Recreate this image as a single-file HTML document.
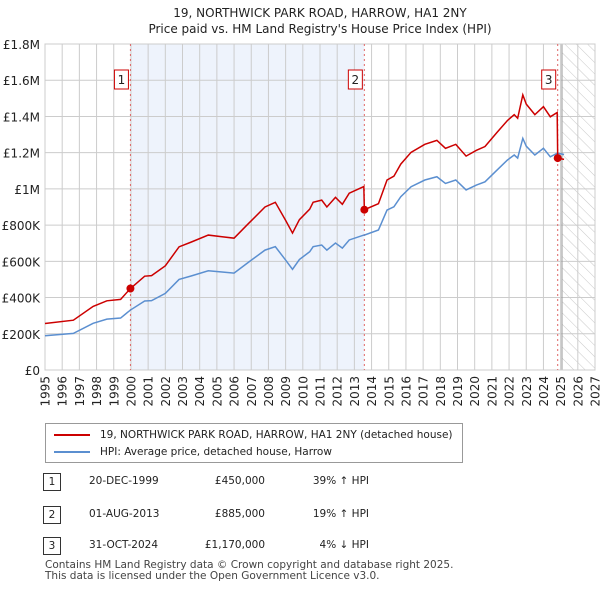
<!DOCTYPE html>
<html><head><meta charset="utf-8"><style>
body{margin:0;background:#fff;font-family:"DejaVu Sans","Liberation Sans",sans-serif;}
#wrap{position:relative;width:600px;height:590px;overflow:hidden}
</style></head><body><div id="wrap">
<svg id="chart" width="600" height="590" style="position:absolute;left:0;top:0;font-family:'DejaVu Sans','Liberation Sans',sans-serif">
<defs><pattern id="hatch" width="8" height="8" patternUnits="userSpaceOnUse" patternTransform="rotate(-45)"><line x1="0" y1="0" x2="0" y2="8" stroke="#c8c8c8" stroke-width="1"/></pattern></defs>
<text x="320" y="17" text-anchor="middle" font-size="12" fill="#222">19, NORTHWICK PARK ROAD, HARROW, HA1 2NY</text>
<text x="320" y="33" text-anchor="middle" font-size="12" fill="#222">Price paid vs. HM Land Registry's House Price Index (HPI)</text>
<g id="plot"></g>
</svg>
<div style="position:absolute;left:45px;top:423px;width:416px;height:38px;border:1px solid #999;font-size:10.5px;color:#222">
 <div style="position:absolute;left:8px;top:5px;white-space:nowrap"><span style="display:inline-block;width:36px;border-top:2px solid #cc0000;vertical-align:middle;margin-right:10px"></span>19, NORTHWICK PARK ROAD, HARROW, HA1 2NY (detached house)</div>
 <div style="position:absolute;left:8px;top:22px;white-space:nowrap"><span style="display:inline-block;width:36px;border-top:2px solid #5b8fd0;vertical-align:middle;margin-right:10px"></span>HPI: Average price, detached house, Harrow</div>
</div>
<div id="tbl" style="font-size:10.5px;color:#222"></div>
<div style="position:absolute;left:45px;top:560px;font-size:10.5px;color:#444;line-height:11px">Contains HM Land Registry data © Crown copyright and database right 2025.<br>This data is licensed under the Open Government Licence v3.0.</div>
</div>
<script>
const dates=[1995.0,1996.65,1997.8,1998.6,1999.4,1999.97,2000.8,2001.2,2002.0,2002.8,2003.5,2004.5,2005.3,2006.0,2006.8,2007.8,2008.4,2009.0,2009.4,2009.8,2010.4,2010.6,2011.1,2011.4,2011.9,2012.3,2012.7,2013.55,2013.58,2014.4,2014.9,2015.3,2015.7,2016.3,2017.1,2017.8,2018.3,2018.9,2019.5,2020.1,2020.6,2021.3,2021.9,2022.3,2022.5,2022.8,2023.0,2023.5,2024.0,2024.4,2024.8,2024.83,2025.2];
const hpiValues=[189,202,258,281,287,331,381,383,423,500,519,548,541,535,592,662,681,607,556,610,653,681,690,662,701,673,718,745,745,773,883,901,957,1012,1049,1067,1030,1049,994,1021,1039,1104,1159,1187,1170,1279,1236,1187,1224,1177,1197,1197,1190];
const propValues=[257,275,351,382,390,450,518,521,575,680,706,745,736,728,805,900,926,826,756,830,888,926,938,900,953,915,976,1013,885,918,1049,1070,1137,1202,1246,1268,1224,1246,1181,1213,1234,1312,1377,1410,1390,1519,1468,1410,1454,1398,1422,1170,1163];
const saleDates=[1999.97,2013.58,2024.83];
const saleValues=[450,885,1170];
const saleLabels=["1","2","3"];
const saleDateText=["20-DEC-1999","01-AUG-2013","31-OCT-2024"];
const salePriceText=["£450,000","£885,000","£1,170,000"];
const saleHpiText=["39% ↑ HPI","19% ↑ HPI","4% ↓ HPI"];
const yTicks=[0,200,400,600,800,1000,1200,1400,1600,1800];
const yTickLabels=["£0","£200K","£400K","£600K","£800K","£1M","£1.2M","£1.4M","£1.6M","£1.8M"];
const xTicks=[1995,1996,1997,1998,1999,2000,2001,2002,2003,2004,2005,2006,2007,2008,2009,2010,2011,2012,2013,2014,2015,2016,2017,2018,2019,2020,2021,2022,2023,2024,2025,2026,2027];

const L=45,R=595,T=44,B=370,x0=1995,x1=2027,ymax=1800;
const X=v=>L+(v-x0)/(x1-x0)*(R-L);
const Y=v=>B-v/ymax*(B-T);
const NS="http://www.w3.org/2000/svg";
const g=document.getElementById('plot');
function mk(tag,at,parent){const e=document.createElementNS(NS,tag);for(const k in at)e.setAttribute(k,at[k]);(parent||g).appendChild(e);return e;}
let e;
e=mk('rect',{x:X(saleDates[0]),y:T,width:X(saleDates[1])-X(saleDates[0]),height:B-T,fill:'#eef3fc'});


e=mk('rect',{x:X(2025.08),y:T,width:R-X(2025.08),height:B-T,fill:'url(#hatch)'});


yTicks.forEach((t,i)=>{
 e=mk('line',{x1:L,x2:R,y1:Y(t),y2:Y(t),stroke:'#cccccc'});
 
 
 e=mk('text',{x:L-5,y:Y(t)+5,'text-anchor':'end','font-size':12,fill:'#222'});e.textContent=yTickLabels[i];
 
 
});
xTicks.forEach(t=>{
 e=mk('line',{x1:X(t),x2:X(t),y1:T,y2:B,stroke:'#cccccc'});
 
 
 e=mk('text',{x:0,y:0,'text-anchor':'end','font-size':12,fill:'#222',transform:'translate('+(X(t)+4.5)+',376) rotate(-90)'});e.textContent=t;
 
 
});
e=mk('line',{x1:X(2025.08),x2:X(2025.08),y1:T,y2:B,stroke:'#999'});


e=mk('rect',{x:L,y:T,width:R-L,height:B-T,fill:'none',stroke:'#cccccc'});


saleDates.forEach((d,i)=>{
 e=mk('line',{x1:X(d),x2:X(d),y1:T,y2:B,stroke:'#e06666','stroke-dasharray':'2,3'});
 
 
});
e=mk('polyline',{points:dates.map((d,i)=>X(d)+','+Y(hpiValues[i])).join(' '),fill:'none',stroke:'#5b8fd0','stroke-width':1.5});


e=mk('polyline',{points:dates.map((d,i)=>X(d)+','+Y(propValues[i])).join(' '),fill:'none',stroke:'#cc0000','stroke-width':1.5});


saleDates.forEach((d,i)=>{
 e=mk('circle',{cx:X(d),cy:Y(saleValues[i]),r:4,fill:'#cc0000'});
 
 
 const bx=X(d)-16;
 e=mk('rect',{x:bx,y:70,width:14,height:19,fill:'#fff',stroke:'#cc0000'});
 
 
 e=mk('text',{x:bx+7,y:84,'text-anchor':'middle','font-size':12,fill:'#222'});e.textContent=saleLabels[i];
 
 
});
const tbl=document.getElementById('tbl');
const rowsY=[482,515,546];
saleLabels.forEach((s,i)=>{
 const r=document.createElement('div');
 
 
 r.style.cssText='position:absolute;left:0;top:'+(rowsY[i]-9)+'px;width:600px;height:18px';
 r.innerHTML='<span style="position:absolute;left:43px;top:0;width:16px;height:16px;border:1px solid #333;text-align:center;line-height:16px">'+s+'</span>'+
 '<span style="position:absolute;left:89px;top:2px">'+saleDateText[i]+'</span>'+
 '<span style="position:absolute;right:335px;top:2px">'+salePriceText[i]+'</span>'+
 '<span style="position:absolute;right:231px;top:2px">'+saleHpiText[i]+'</span>';
 tbl.appendChild(r);
});
</script>
</body></html>
